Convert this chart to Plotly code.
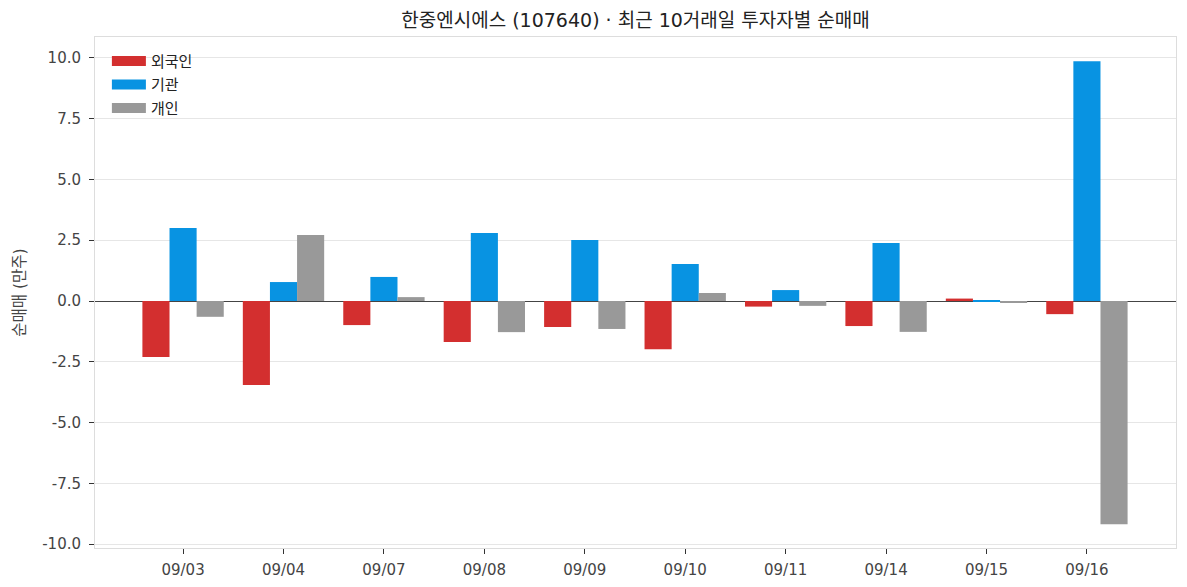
import plotly.graph_objects as go

dates = ["09/03", "09/04", "09/07", "09/08", "09/09", "09/10", "09/11", "09/14", "09/15", "09/16"]
foreign = [-2.30, -3.46, -0.99, -1.69, -1.07, -1.98, -0.23, -1.03, 0.10, -0.54]
institution = [3.00, 0.78, 0.99, 2.80, 2.51, 1.52, 0.45, 2.39, 0.04, 9.86]
individual = [-0.65, 2.72, 0.16, -1.28, -1.15, 0.33, -0.20, -1.27, -0.07, -9.18]
series_names = ["외국인", "기관", "개인"]
y_ticks = [-10.0, -7.5, -5.0, -2.5, 0.0, 2.5, 5.0, 7.5, 10.0]
y_tick_labels = ["-10.0", "-7.5", "-5.0", "-2.5", "0.0", "2.5", "5.0", "7.5", "10.0"]

FONT = "DejaVu Sans, Noto Sans CJK KR, sans-serif"
colors = ["#D32F2F", "#0893E2", "#999999"]

# page body has an 8px default margin, so the figure is slightly smaller
W, H = 1179, 579

fig = go.Figure()
for i, (name, vals) in enumerate(zip(series_names, [foreign, institution, individual])):
    fig.add_trace(go.Bar(x=dates, y=vals, name=name, marker_color=colors[i],
                         marker_line_width=0, legendgroup=f"g{i}", showlegend=False))
    # legend entry drawn as a wide rectangular swatch (like the reference)
    fig.add_trace(go.Scatter(x=[None], y=[None], mode="lines", name=name,
                             line=dict(color=colors[i], width=11),
                             legendgroup=f"g{i}", showlegend=True, hoverinfo="skip"))

fig.update_layout(
    width=W, height=H,
    margin=dict(l=87, r=11, t=29, b=39, autoexpand=False),
    paper_bgcolor="white", plot_bgcolor="white",
    barmode="group", bargap=0.19, bargroupgap=0,
    font=dict(family=FONT, size=15, color="#444"),
    title=dict(text="한중엔시에스 (107640) · 최근 10거래일 투자자별 순매매",
               x=0.5, xanchor="center", y=1 - 12 / H, yanchor="middle",
               xref="paper", yref="container",
               font=dict(size=19, color="#222")),
    legend=dict(x=0.011, y=0.985, xanchor="left", yanchor="top",
                bgcolor="rgba(0,0,0,0)", font=dict(size=15, color="#222"),
                itemwidth=34, tracegroupgap=1),
    showlegend=True,
)
fig.update_xaxes(range=[-0.877, 9.887], showgrid=False, ticks="outside", ticklen=5,
                 tickcolor="#333", showline=True, linecolor="#dddddd", linewidth=1,
                 mirror=True, tickfont=dict(size=15, color="#444"), automargin=False,
                 ticklabelstandoff=3)
fig.update_yaxes(range=[-10.16, 10.86], tickvals=y_ticks, ticktext=y_tick_labels,
                 showgrid=True, gridcolor="#e6e6e6", gridwidth=1,
                 ticks="outside", ticklen=5, tickcolor="#333",
                 showline=True, linecolor="#dddddd", linewidth=1, mirror=True,
                 zeroline=True, zerolinecolor="#444", zerolinewidth=1.2,
                 title=dict(text="순매매 (만주)", font=dict(size=15.5, color="#444"), standoff=12),
                 tickfont=dict(size=15, color="#444"), automargin=False,
                 ticklabelstandoff=5)

fig.write_html("out.html")
